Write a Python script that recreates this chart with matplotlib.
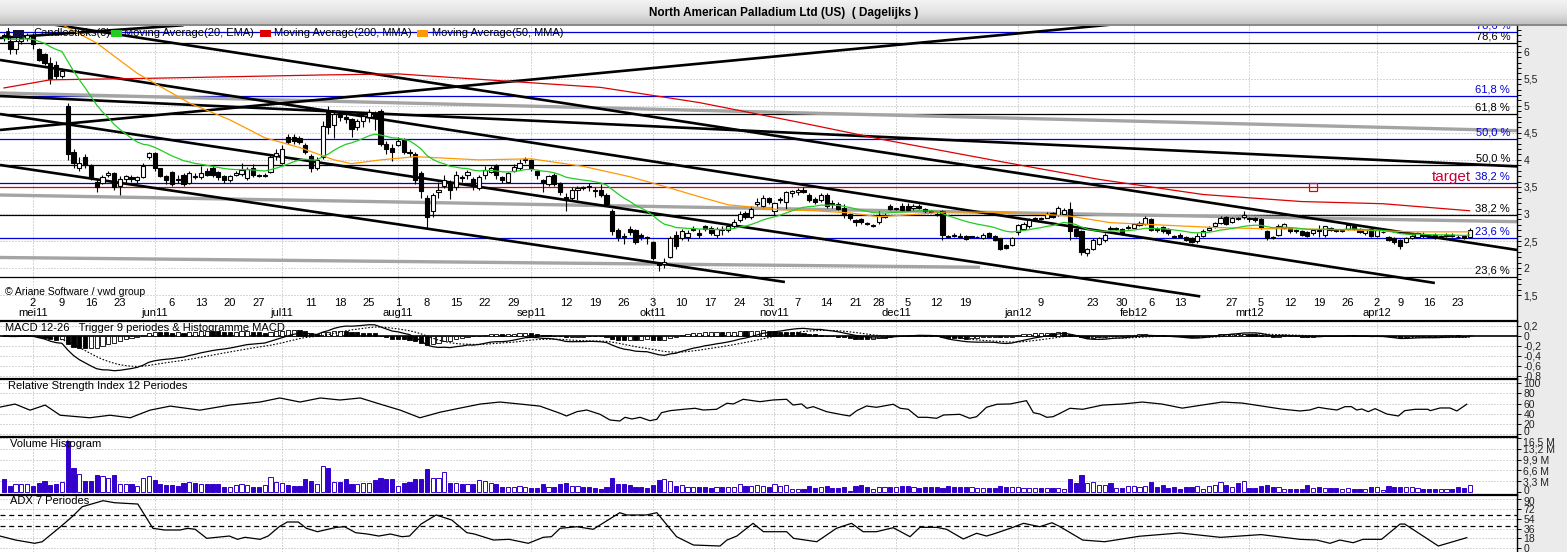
import numpy as np
import pandas as pd
import matplotlib
matplotlib.use("Agg")
import matplotlib.pyplot as plt
from matplotlib.patches import Rectangle
from matplotlib.colors import LinearSegmentedColormap
from matplotlib.ticker import FixedLocator, FuncFormatter
from matplotlib.transforms import ScaledTranslation

plt.rcParams['font.family'] = ['Liberation Sans', 'DejaVu Sans']

# ============================================================
# Data
# ============================================================

title = "North American Palladium Ltd (US)  ( Dagelijks )"

holidays = ['2011-05-30', '2011-07-04', '2011-09-05', '2011-11-24', '2011-12-26',
            '2012-01-02', '2012-01-16', '2012-02-20', '2012-04-06']
dates = pd.bdate_range('2011-04-25', '2012-04-25')
dates = dates[~dates.isin(pd.to_datetime(holidays))]

opens = [
    6.30, 6.20, 6.05, 6.20, 6.25, 6.30, 6.05, 5.95, 5.80, 5.75,
    5.55, 5.00, 4.15, 3.85, 4.05, 3.90, 3.60, 3.58, 3.72, 3.75,
    3.52, 3.65, 3.68, 3.63, 3.68, 4.05, 4.12, 3.85, 3.70, 3.78,
    3.65, 3.72, 3.58, 3.70, 3.68, 3.80, 3.85, 3.78, 3.70, 3.62,
    3.72, 3.74, 3.66, 3.85, 3.72, 3.71, 3.78, 4.08, 3.95, 4.42,
    4.42, 4.40, 4.28, 4.08, 3.85, 4.05, 4.90, 4.65, 4.85, 4.80,
    4.75, 4.60, 4.72, 4.80, 4.85, 4.90, 4.30, 4.22, 4.28, 4.38,
    4.15, 4.10, 3.75, 3.30, 3.05, 3.40, 3.52, 3.58, 3.50, 3.68,
    3.72, 3.65, 3.48, 3.72, 3.78, 3.88, 3.68, 3.60, 3.80, 3.85,
    4.00, 4.00, 3.80, 3.62, 3.55, 3.72, 3.58, 3.32, 3.30, 3.45,
    3.50, 3.52, 3.45, 3.45, 3.35, 3.05, 2.70, 2.60, 2.72, 2.70,
    2.62, 2.58, 2.48, 2.10, 2.08, 2.20, 2.62, 2.55, 2.58, 2.70,
    2.65, 2.78, 2.75, 2.62, 2.72, 2.70, 2.78, 2.88, 3.02, 2.95,
    3.18, 3.15, 3.30, 3.05, 3.25, 3.22, 3.38, 3.40, 3.45, 3.35,
    3.28, 3.25, 3.35, 3.20, 3.18, 3.12, 3.00, 2.88, 2.90, 2.84,
    2.78, 2.85, 2.94, 3.15, 3.10, 3.15, 3.15, 3.12, 3.15, 3.10,
    3.06, 3.00, 3.05, 2.60, 2.62, 2.60, 2.60, 2.58, 2.57, 2.56,
    2.65, 2.60, 2.55, 2.42, 2.42, 2.66, 2.72, 2.78, 2.90, 2.92,
    2.93, 3.02, 2.99, 3.00, 3.10, 2.72, 2.68, 2.28, 2.35, 2.45,
    2.52, 2.75, 2.72, 2.72, 2.74, 2.75, 2.80, 2.82, 2.90, 2.72,
    2.76, 2.72, 2.60, 2.62, 2.58, 2.56, 2.50, 2.60, 2.70, 2.77,
    2.84, 2.95, 2.85, 2.92, 2.95, 2.92, 2.92, 2.90, 2.68, 2.58,
    2.62, 2.75, 2.75, 2.70, 2.68, 2.66, 2.64, 2.70, 2.62, 2.74,
    2.70, 2.68, 2.72, 2.78, 2.72, 2.64, 2.73, 2.60, 2.66, 2.58,
    2.55, 2.52, 2.48, 2.56, 2.58, 2.62, 2.60, 2.62, 2.58, 2.60,
    2.62, 2.58, 2.60, 2.58,
]
highs = [
    6.35, 6.30, 6.30, 6.30, 6.35, 6.35, 6.07, 5.98, 5.90, 5.82,
    5.70, 5.05, 4.20, 4.05, 4.10, 3.92, 3.64, 3.72, 3.80, 3.78,
    3.70, 3.72, 3.72, 3.70, 3.95, 4.15, 4.15, 3.85, 3.72, 3.80,
    3.72, 3.75, 3.80, 3.75, 3.88, 3.85, 3.88, 3.80, 3.72, 3.72,
    3.80, 3.95, 3.86, 3.92, 3.74, 3.76, 4.10, 4.20, 4.28, 4.48,
    4.48, 4.45, 4.32, 4.10, 4.05, 4.72, 5.00, 4.90, 4.90, 4.85,
    4.78, 4.75, 4.88, 4.95, 4.90, 4.95, 4.35, 4.30, 4.42, 4.40,
    4.20, 4.15, 3.80, 3.35, 3.38, 3.60, 3.72, 3.62, 3.80, 3.72,
    3.82, 3.68, 3.72, 3.88, 3.88, 3.92, 3.70, 3.78, 3.92, 4.02,
    4.05, 4.02, 3.82, 3.65, 3.72, 3.75, 3.60, 3.38, 3.50, 3.52,
    3.52, 3.58, 3.50, 3.55, 3.38, 3.10, 2.75, 2.65, 2.78, 2.72,
    2.65, 2.60, 2.50, 2.12, 2.18, 2.60, 2.68, 2.72, 2.70, 2.78,
    2.72, 2.80, 2.78, 2.76, 2.78, 2.82, 2.90, 3.05, 3.05, 3.15,
    3.30, 3.35, 3.32, 3.22, 3.32, 3.42, 3.45, 3.48, 3.50, 3.38,
    3.32, 3.38, 3.38, 3.25, 3.22, 3.18, 3.02, 2.90, 2.92, 2.86,
    2.82, 3.05, 3.02, 3.18, 3.12, 3.20, 3.20, 3.18, 3.18, 3.12,
    3.08, 3.04, 3.08, 2.62, 2.65, 2.64, 2.62, 2.60, 2.60, 2.64,
    2.66, 2.62, 2.56, 2.45, 2.57, 2.82, 2.85, 2.92, 2.94, 2.95,
    3.03, 3.03, 3.15, 3.12, 3.22, 2.75, 2.70, 2.38, 2.55, 2.58,
    2.65, 2.78, 2.76, 2.74, 2.80, 2.84, 2.87, 2.96, 2.92, 2.76,
    2.78, 2.74, 2.62, 2.64, 2.60, 2.58, 2.64, 2.72, 2.78, 2.86,
    2.96, 2.97, 2.94, 2.95, 3.05, 2.95, 2.94, 2.92, 2.70, 2.60,
    2.82, 2.84, 2.76, 2.72, 2.70, 2.68, 2.72, 2.80, 2.78, 2.76,
    2.72, 2.72, 2.82, 2.82, 2.74, 2.72, 2.75, 2.72, 2.68, 2.60,
    2.58, 2.54, 2.58, 2.62, 2.66, 2.66, 2.63, 2.64, 2.62, 2.64,
    2.64, 2.62, 2.62, 2.75,
]
lows = [
    6.20, 5.95, 5.95, 6.15, 6.20, 6.05, 5.82, 5.75, 5.40, 5.50,
    5.52, 4.00, 3.85, 3.80, 3.85, 3.62, 3.40, 3.55, 3.68, 3.45,
    3.35, 3.58, 3.60, 3.58, 3.66, 4.02, 3.80, 3.68, 3.55, 3.52,
    3.58, 3.52, 3.55, 3.65, 3.65, 3.70, 3.68, 3.62, 3.58, 3.60,
    3.70, 3.70, 3.62, 3.68, 3.68, 3.68, 3.75, 4.00, 3.92, 4.30,
    4.30, 4.30, 4.10, 3.78, 3.82, 4.02, 4.48, 4.40, 4.72, 4.68,
    4.42, 4.55, 4.60, 4.70, 4.55, 4.25, 4.10, 3.98, 4.25, 4.10,
    4.05, 3.55, 3.30, 2.75, 2.95, 3.30, 3.48, 3.28, 3.45, 3.60,
    3.65, 3.45, 3.45, 3.65, 3.75, 3.65, 3.58, 3.58, 3.78, 3.82,
    3.95, 3.80, 3.65, 3.40, 3.52, 3.52, 3.35, 3.05, 3.25, 3.25,
    3.45, 3.42, 3.32, 3.32, 3.15, 2.62, 2.50, 2.45, 2.62, 2.45,
    2.52, 2.45, 2.15, 1.95, 2.00, 2.18, 2.35, 2.52, 2.50, 2.68,
    2.55, 2.68, 2.62, 2.55, 2.62, 2.66, 2.75, 2.85, 2.90, 2.90,
    3.15, 3.12, 3.18, 2.98, 3.20, 3.10, 3.32, 3.35, 3.38, 3.22,
    3.18, 3.22, 3.12, 3.12, 3.08, 2.92, 2.88, 2.78, 2.82, 2.80,
    2.76, 2.82, 2.92, 3.08, 3.08, 3.05, 3.05, 3.08, 3.10, 3.02,
    3.02, 2.96, 2.52, 2.55, 2.57, 2.55, 2.52, 2.55, 2.55, 2.54,
    2.56, 2.50, 2.33, 2.36, 2.40, 2.62, 2.70, 2.75, 2.88, 2.88,
    2.92, 2.92, 2.97, 2.98, 2.52, 2.58, 2.25, 2.22, 2.33, 2.42,
    2.48, 2.70, 2.70, 2.62, 2.72, 2.74, 2.78, 2.80, 2.68, 2.66,
    2.64, 2.62, 2.55, 2.56, 2.50, 2.46, 2.46, 2.58, 2.68, 2.75,
    2.82, 2.80, 2.83, 2.88, 2.90, 2.86, 2.86, 2.72, 2.52, 2.53,
    2.60, 2.72, 2.65, 2.64, 2.60, 2.58, 2.62, 2.58, 2.58, 2.68,
    2.66, 2.66, 2.70, 2.70, 2.64, 2.62, 2.58, 2.58, 2.64, 2.50,
    2.45, 2.36, 2.46, 2.53, 2.55, 2.56, 2.55, 2.54, 2.56, 2.58,
    2.58, 2.55, 2.53, 2.56,
]
closes = [
    6.25, 6.05, 6.20, 6.25, 6.30, 6.15, 5.85, 5.80, 5.50, 5.55,
    5.65, 4.10, 3.95, 3.95, 3.90, 3.68, 3.50, 3.68, 3.76, 3.50,
    3.65, 3.70, 3.64, 3.68, 3.88, 4.12, 3.85, 3.70, 3.62, 3.55,
    3.62, 3.55, 3.75, 3.68, 3.76, 3.72, 3.72, 3.68, 3.63, 3.70,
    3.76, 3.82, 3.83, 3.72, 3.70, 3.73, 4.05, 4.12, 4.20, 4.33,
    4.35, 4.33, 4.15, 3.85, 4.00, 4.62, 4.60, 4.85, 4.80, 4.75,
    4.58, 4.72, 4.82, 4.88, 4.78, 4.30, 4.20, 4.15, 4.35, 4.15,
    4.12, 3.62, 3.42, 2.95, 3.35, 3.45, 3.62, 3.45, 3.72, 3.66,
    3.78, 3.52, 3.68, 3.82, 3.85, 3.72, 3.62, 3.75, 3.86, 3.95,
    4.02, 3.85, 3.72, 3.58, 3.70, 3.55, 3.40, 3.25, 3.45, 3.48,
    3.48, 3.50, 3.42, 3.35, 3.18, 2.68, 2.58, 2.58, 2.66, 2.48,
    2.58, 2.55, 2.18, 2.05, 2.12, 2.55, 2.40, 2.68, 2.65, 2.72,
    2.62, 2.72, 2.65, 2.72, 2.70, 2.78, 2.85, 3.00, 2.95, 3.10,
    3.22, 3.30, 3.22, 3.20, 3.28, 3.40, 3.42, 3.45, 3.40, 3.25,
    3.22, 3.35, 3.15, 3.18, 3.10, 2.98, 2.92, 2.86, 2.86, 2.82,
    2.80, 2.98, 2.98, 3.10, 3.10, 3.08, 3.08, 3.15, 3.12, 3.05,
    3.04, 2.98, 2.62, 2.58, 2.60, 2.58, 2.54, 2.58, 2.58, 2.62,
    2.58, 2.52, 2.35, 2.38, 2.55, 2.80, 2.82, 2.88, 2.92, 2.90,
    3.00, 2.94, 3.12, 3.08, 2.68, 2.60, 2.30, 2.35, 2.52, 2.55,
    2.62, 2.72, 2.74, 2.64, 2.76, 2.82, 2.84, 2.92, 2.70, 2.70,
    2.68, 2.64, 2.58, 2.58, 2.52, 2.48, 2.60, 2.68, 2.75, 2.84,
    2.92, 2.82, 2.92, 2.90, 2.98, 2.90, 2.88, 2.75, 2.55, 2.56,
    2.78, 2.81, 2.68, 2.68, 2.62, 2.60, 2.70, 2.68, 2.77, 2.70,
    2.68, 2.70, 2.80, 2.72, 2.66, 2.70, 2.60, 2.70, 2.66, 2.52,
    2.48, 2.40, 2.56, 2.60, 2.64, 2.60, 2.57, 2.56, 2.60, 2.62,
    2.60, 2.57, 2.55, 2.71,
]
# volume in millions of shares
volumes = [
    3.8, 1.7, 2.4, 2.4, 2.4, 1.7, 2.6, 3.3, 2.1, 2.4,
    3.1, 15.7, 7.2, 5.5, 3.3, 3.3, 5.1, 4.9, 4.1, 5.1,
    2.4, 2.4, 2.4, 1.7, 4.1, 4.8, 3.6, 2.4, 2.1, 2.1,
    1.7, 2.8, 3.1, 2.8, 2.4, 2.4, 2.4, 2.4, 1.3, 1.5,
    2.1, 2.4, 2.1, 1.5, 1.3, 2.1, 4.4, 3.1, 2.8, 2.1,
    1.7, 1.7, 3.8, 3.4, 2.4, 7.9, 7.2, 3.1, 3.1, 3.8,
    2.4, 2.4, 2.8, 2.8, 3.6, 4.1, 3.8, 3.8, 1.7, 2.8,
    3.1, 3.8, 3.8, 6.9, 4.1, 4.1, 6.1, 2.8, 2.6, 2.4,
    2.4, 2.4, 3.6, 3.4, 2.6, 2.4, 1.3, 1.5, 1.5, 1.7,
    1.3, 1.0, 1.0, 2.4, 1.3, 1.3, 2.4, 2.6, 1.7, 1.7,
    1.3, 1.5, 1.2, 0.7, 1.4, 4.2, 2.3, 2.3, 2.0, 1.5,
    1.4, 1.2, 2.1, 3.6, 3.8, 3.2, 1.7, 2.0, 1.4, 1.4,
    1.4, 1.4, 1.1, 1.6, 1.6, 1.6, 1.6, 2.3, 1.7, 1.7,
    2.0, 1.7, 1.4, 2.3, 1.7, 2.0, 0.9, 0.9, 0.9, 1.7,
    1.2, 1.5, 1.7, 1.2, 1.2, 1.4, 0.2, 1.7, 2.1, 1.6,
    0.9, 1.5, 1.5, 1.5, 1.5, 1.9, 1.7, 1.4, 1.2, 1.5,
    1.5, 1.4, 1.0, 1.7, 1.5, 1.5, 1.5, 1.5, 1.0, 1.2,
    1.0, 1.2, 1.7, 1.5, 1.5, 1.5, 1.2, 1.2, 1.2, 1.0,
    1.2, 1.2, 1.2, 0.9, 3.8, 2.8, 5.3, 2.6, 3.0, 2.0,
    2.0, 2.8, 1.2, 1.2, 1.7, 1.7, 1.4, 1.7, 3.0, 1.4,
    2.1, 1.2, 1.4, 0.9, 1.4, 1.4, 1.7, 0.9, 1.7, 2.0,
    3.0, 2.0, 1.5, 2.8, 3.3, 1.0, 1.0, 1.7, 2.1, 1.5,
    1.5, 0.9, 0.9, 0.7, 0.7, 2.0, 1.2, 1.4, 1.0, 1.0,
    1.0, 0.9, 1.0, 0.7, 0.7, 0.7, 1.4, 1.4, 0.5, 1.7,
    1.5, 1.5, 1.4, 1.4, 1.0, 0.7, 0.7, 0.7, 0.7, 0.7,
    0.7, 1.4, 1.0, 2.1,
]

# 200 MMA (red) and 50 MMA (orange), read at sample days
ma200_idx = [0, 8, 26, 55, 68, 82, 103, 120, 137, 152, 172, 189, 207, 224, 238, 253]
ma200_val = [5.33, 5.48, 5.51, 5.57, 5.59, 5.49, 5.34, 5.06, 4.70, 4.37,
             3.97, 3.64, 3.36, 3.23, 3.19, 3.06]
ma50_idx = [0, 10, 16, 23, 32, 39, 45, 51, 57, 60, 65, 71, 82, 91, 100, 108, 114, 120,
            125, 134, 140, 146, 151, 157, 163, 172, 180, 184, 191, 203, 209, 217, 226,
            238, 243, 253]
ma50_val = [6.75, 6.50, 6.16, 5.60, 5.05, 4.74, 4.41, 4.23, 4.00, 3.93, 4.00, 4.06,
            4.00, 4.02, 3.88, 3.69, 3.51, 3.32, 3.17, 3.08, 3.06, 3.02, 2.95, 2.99,
            3.04, 3.03, 2.99, 2.96, 2.84, 2.78, 2.75, 2.73, 2.72, 2.69, 2.67, 2.67]

# RSI 12 and ADX 7, read at sample days
rsi_idx = [-0.7, 1.9, 4.5, 7.1, 9.7, 14.8, 18.3, 21.8, 25.2, 28.7, 33.8, 39.0, 44.2,
           47.6, 51.1, 54.6, 58.0, 61.5, 64.9, 68.4, 71.8, 75.3, 78.7, 82.2, 85.6,
           89.1, 92.5, 96.0, 97.1, 98.9, 100.6, 102.9, 104.6, 106.3, 107.2, 108.4,
           109.8, 111.5, 112.7, 113.5, 115.0, 117.3, 119.3, 120.7, 123.0, 124.8,
           125.9, 127.6, 130.5, 132.8, 135.1, 136.2, 137.7, 138.6, 139.7, 142.0,
           144.3, 146.0, 147.2, 148.9, 150.6, 153.5, 154.7, 156.1, 157.8, 159.3,
           161.0, 162.2, 165.0, 166.7, 167.9, 169.6, 171.4, 173.7, 176.5, 177.7,
           178.8, 180.0, 181.1, 182.3, 184.0, 186.2, 189.6, 193.0, 196.5, 199.9,
           203.4, 206.8, 210.3, 213.7, 217.2, 220.6, 223.7, 225.4, 226.9, 228.3,
           230.1, 231.5, 232.6, 233.5, 234.4, 235.5, 236.7, 238.7, 240.7, 241.8,
           243.6, 245.8, 246.2, 247.9, 249.6, 250.8, 252.5]
rsi_val = [53, 59, 47, 57, 37, 32, 37, 32, 47, 55, 47, 57, 63, 71, 63, 71, 67, 71, 59,
           47, 32, 43, 51, 59, 63, 59, 55, 40.8, 35.5, 44.0, 47.3, 38.8, 27.6, 25.6,
           32.9, 29.6, 32.9, 26.2, 29.0, 42.0, 46.0, 48.7, 50.7, 47.3, 48.7, 60.6,
           59.2, 68.4, 63.7, 67.1, 68.4, 57.2, 59.2, 50.7, 53.9, 44.0, 38.8, 35.5,
           46.0, 55.2, 52.6, 58.6, 50.7, 48.7, 32.9, 32.9, 31.0, 37.5, 38.8, 31.0,
           34.1, 52.6, 58.6, 59.2, 65.7, 42.0, 39.4, 32.9, 34.1, 40.8, 50.7, 48.7,
           57, 59, 63, 59, 51, 57, 63, 61, 55, 49, 45.4, 47.3, 52.6, 50.0, 47.3,
           53.9, 53.9, 47.3, 49.3, 44.0, 50.0, 39.4, 35.5, 46.0, 48.7, 48.7, 46.0,
           51.3, 51.3, 45.4, 58.6]
adx_idx = [-0.7, 2.0, 5.3, 6.6, 9.9, 11.9, 13.5, 17.1, 19.1, 23.1, 25.7, 27.7, 30.4,
           31.7, 33.0, 35.0, 38.9, 40.3, 41.6, 44.2, 45.6, 47.5, 48.9, 50.8, 52.2,
           54.1, 57.4, 58.8, 60.7, 62.7, 64.7, 66.7, 68.7, 70.0, 72.0, 74.6, 77.3,
           79.9, 81.2, 84.5, 87.2, 89.2, 90.5, 93.1, 94.5, 96.0, 98.9, 101.7, 106.3,
           107.5, 110.9, 112.7, 116.1, 119.0, 123.6, 124.8, 126.5, 129.3, 131.1,
           135.1, 136.3, 140.3, 143.7, 146.3, 148.3, 150.6, 153.5, 156.4, 158.1,
           161.0, 162.7, 165.6, 167.9, 169.6, 170.8, 173.7, 176.0, 178.8, 180.9,
           182.3, 186.2, 190.0, 196.0, 203.0, 210.0, 217.0, 223.7, 226.6, 228.9,
           230.6, 232.9, 234.6, 237.8, 241.0, 241.8, 247.6, 252.5]
adx_val = [22.4, 15.1, 9.1, 12.0, 40.7, 58.9, 75.9, 86.9, 83.2, 80.8, 36.5, 33.4,
           33.4, 36.5, 34.7, 18.2, 22.4, 16.4, 20.1, 16.4, 22.4, 39.4, 48.0, 48.0,
           36.5, 30.3, 38.3, 39.4, 28.5, 26.1, 22.4, 26.1, 21.2, 22.4, 44.3, 60.8,
           51.6, 28.5, 26.1, 15.1, 16.4, 12.0, 9.1, 20.1, 21.2, 36.5, 39.4, 34.7,
           65.0, 60.8, 60.8, 65.0, 21.2, 6.0, 4.2, 15.1, 22.4, 45.6, 30.3, 30.3,
           18.2, 12.0, 36.5, 45.6, 30.3, 30.3, 37.6, 21.2, 38.3, 38.3, 34.7, 17.0,
           27.4, 22.4, 26.1, 36.5, 45.6, 39.4, 46.7, 39.4, 15.1, 12.0, 22.0, 28.0,
           20.0, 25.0, 16.4, 15.1, 9.1, 15.1, 10.2, 16.4, 16.4, 44.3, 44.3, 4.2,
           19.4]

# Fibonacci retracement sets
fib_names = ['78,6 %', '61,8 %', '50,0 %', '38,2 %', '23,6 %']
fib_black = [6.155, 4.843, 3.900, 2.976, 1.830]
fib_blue = [6.359, 5.187, 4.386, 3.567, 2.551]

target_level = 3.5
target_day = 226

# hand drawn trend lines, (day, price) end points
black_lines = [
    ((-0.69, 5.847), (247.0, 1.725)),
    ((0.0, 6.643), (261.2, 2.335)),
    ((-0.69, 3.906), (134.8, 1.743)),
    ((-0.69, 4.848), (206.5, 1.477)),
    ((-0.69, 5.181), (261.2, 3.880)),
    ((-0.69, 4.553), (192.0, 6.51)),
    ((-0.69, 6.253), (31.0, 6.49)),
]
grey_lines = [
    ((-0.69, 5.237), (261.2, 4.540)),
    ((-0.69, 3.351), (261.2, 2.858)),
    ((-0.69, 2.196), (168.5, 2.015)),
]

month_names = ['jan', 'feb', 'mrt', 'apr', 'mei', 'jun',
               'jul', 'aug', 'sep', 'okt', 'nov', 'dec']

# ============================================================
# Indicators computed from the candles
# ============================================================

o = np.array(opens)
h = np.array(highs)
l = np.array(lows)
c = np.array(closes)
vol = np.array(volumes)
x = np.arange(len(dates))
assert len(o) == len(h) == len(l) == len(c) == len(vol) == len(dates)
assert len(rsi_idx) == len(rsi_val) and len(adx_idx) == len(adx_val)


def ema(vals, n):
    a = 2.0 / (n + 1)
    out = np.empty(len(vals))
    out[0] = vals[0]
    for k in range(1, len(vals)):
        out[k] = out[k - 1] + a * (vals[k] - out[k - 1])
    return out


ema20 = ema(c, 20)
macd = ema(c, 12) - ema(c, 26)
trigger = ema(macd, 9)
hist = macd - trigger

# ============================================================
# Layout (pixel based, 1567 x 552)
# ============================================================

W, H = 1567, 552
PLOT_R = 1517
XMIN, XMAX = -0.69, 261.18
GRID = dict(color='#b0b0b0', lw=0.72, linestyle=(0, (1, 2)), zorder=0)
LABEL_SIZE = 7.5

fig = plt.figure(figsize=(W / 100, H / 100), dpi=100, facecolor='#ebebeb')


def fx(px):
    return px / W


def fy(py):
    return 1 - py / H


def comma(fmt):
    return FuncFormatter(lambda v, p: fmt(v).replace('.', ','))


def nudge(ax, tick_no, dy_px):
    # shift one right-hand tick label up (+) or down (-) by a few pixels
    t = ax.yaxis.get_major_ticks()[tick_no]
    t.label2.set_transform(t.label2.get_transform()
                           + ScaledTranslation(0, dy_px / 100, fig.dpi_scale_trans))


def panel(top, bottom, ylim):
    ax = fig.add_axes([0, 1 - bottom / H, PLOT_R / W, (bottom - top) / H])
    ax.set_facecolor('white')
    ax.set_xlim(XMIN, XMAX)
    ax.set_ylim(*ylim)
    ax.set_xticks([])
    for s in ['left', 'bottom']:
        ax.spines[s].set_visible(False)
    ax.spines['right'].set_linewidth(1.0)
    ax.spines['top'].set_linewidth(1.6)
    ax.yaxis.tick_right()
    ax.tick_params(axis='y', which='both', direction='out', length=3, width=0.7,
                   labelsize=LABEL_SIZE, pad=1.5, labelcolor='#202020')
    return ax


month_starts = [k for k in range(1, len(dates)) if dates[k].month != dates[k - 1].month]

# title bar
tax = fig.add_axes([0, fy(26), 1, 26 / H])
bar_cmap = LinearSegmentedColormap.from_list('bar', ['#f3f3f3', '#e2e2e2', '#bcbcbc'])
tax.imshow(np.linspace(0, 1, 60).reshape(-1, 1), aspect='auto', cmap=bar_cmap,
           extent=[0, 1, 0, 1])
tax.set_xlim(0, 1)
tax.set_ylim(0, 1)
tax.axhline(0.02, color='#808080', lw=1.2)
tax.set_axis_off()
tax.text(0.5, 0.5, title, ha='center', va='center', fontsize=8.5, fontweight='bold',
         transform=tax.transAxes)

# ------------------------------------------------------------
# Price panel
# ------------------------------------------------------------
ax = panel(26, 321, (1.022, 6.475))
ax.spines['top'].set_visible(False)
ax.yaxis.set_major_locator(FixedLocator(np.arange(1.5, 6.01, 0.5)))
ax.yaxis.set_minor_locator(FixedLocator(np.arange(1.5, 6.45, 0.1)))
ax.yaxis.set_major_formatter(comma(lambda v: f"{v:g}"))

for lv in np.arange(1.5, 6.01, 0.5):
    ax.axhline(lv, **GRID)
for k in month_starts:
    ax.axvline(k, **GRID)

for lv, name in zip(fib_black, fib_names):
    ax.axhline(lv, color='black', lw=0.9, zorder=1)
    ax.text(260.0, lv + 0.122, name, ha='right', va='center', fontsize=8,
            color='black', clip_on=True, zorder=6)
for lv, name in zip(fib_blue, fib_names):
    ax.axhline(lv, color='#0000dd', lw=0.9, zorder=1)
    ax.text(260.0, lv + 0.122, name, ha='right', va='center', fontsize=8,
            color='#0000dd', clip_on=True, zorder=6)

ax.axhline(target_level, color='#dd0000', lw=0.9, zorder=1)
ax.text(253.2, target_level + 0.19, 'target', ha='right', va='center', fontsize=11,
        color='#cc0033', zorder=6)
ax.plot([target_day], [target_level], marker='s', ms=6, mfc='none', mec='#ee0000',
        mew=0.9, zorder=6)

for (x0, y0), (x1, y1) in grey_lines:
    ax.plot([x0, x1], [y0, y1], color='#a4a4a4', lw=2.4, solid_capstyle='butt', zorder=2)
for (x0, y0), (x1, y1) in black_lines:
    ax.plot([x0, x1], [y0, y1], color='black', lw=1.9, solid_capstyle='butt', zorder=2)

up = c >= o
body_low = np.minimum(o, c)
body_h = np.maximum(abs(c - o), 0.012)
ax.vlines(x, l, h, color='black', lw=0.8, zorder=3)
ax.bar(x[up], body_h[up], bottom=body_low[up], width=0.72, facecolor='white',
       edgecolor='black', lw=0.8, zorder=4)
ax.bar(x[~up], body_h[~up], bottom=body_low[~up], width=0.72, facecolor='black',
       edgecolor='black', lw=0.8, zorder=4)

ax.plot(ma200_idx, ma200_val, color='#dd0000', lw=0.9, zorder=5)
ax.plot(ma50_idx, ma50_val, color='#ff9900', lw=0.9, zorder=5)
ax.plot(x, ema20, color='#22cc22', lw=0.9, zorder=5)

# date labels
xt = ax.get_xaxis_transform()
for k, dte in enumerate(dates):
    if dte.weekday() == 0 and k > 0:
        ax.text(k, 0.060, str(dte.day), transform=xt, ha='center', va='center', fontsize=8)
for k in month_starts:
    dte = dates[k]
    ax.text(k, 0.026, f"{month_names[dte.month - 1]}{dte.year % 100:02d}", transform=xt,
            ha='center', va='center', fontsize=8)
ax.text(0.0035, 0.099, '\u00a9 Ariane Software / vwd group', transform=ax.transAxes,
        ha='left', va='center', fontsize=7.5)

# legend
fig.add_artist(plt.Line2D([fx(7.5), fx(7.5)], [fy(28), fy(39)], color='black', lw=0.8,
                          transform=fig.transFigure))
fig.add_artist(Rectangle((fx(6), fy(36)), 3 / W, 5 / H, transform=fig.transFigure,
                         facecolor='black', edgecolor='black', lw=0.5))
legend_items = [
    (13, '#101040', 33, 'Candlesticks(0)'),
    (111, '#22cc22', 124, 'Moving Average(20, EMA)'),
    (260, '#dd0000', 274, 'Moving Average(200, MMA)'),
    (417, '#ff9900', 432, 'Moving Average(50, MMA)'),
]
for sx, col, tx, label in legend_items:
    fig.add_artist(Rectangle((fx(sx), fy(36.5)), 11 / W, 6 / H, transform=fig.transFigure,
                             facecolor=col, edgecolor='none'))
    fig.text(fx(tx), fy(33.5), label, ha='left', va='center', fontsize=8)

# ------------------------------------------------------------
# MACD panel
# ------------------------------------------------------------
axm = panel(321, 379.3, (-0.872, 0.294))
macd_ticks = [-0.8, -0.6, -0.4, -0.2, 0, 0.2]
axm.yaxis.set_major_locator(FixedLocator(macd_ticks))
axm.yaxis.set_major_formatter(comma(lambda v: f"{v:.1f}" if abs(v) > 1e-9 else "0"))
for lv in macd_ticks:
    if lv != 0:
        axm.axhline(lv, **GRID)
for k in month_starts:
    axm.axvline(k, **GRID)
axm.axhline(0, color='black', lw=1.2, zorder=2)
falling = np.r_[False, hist[1:] < hist[:-1]]
axm.bar(x[falling], hist[falling], width=0.72, facecolor='black', edgecolor='black',
        lw=0.6, zorder=3)
axm.bar(x[~falling], hist[~falling], width=0.72, facecolor='white', edgecolor='black',
        lw=0.6, zorder=3)
axm.plot(x, macd, color='black', lw=0.9, zorder=4)
axm.plot(x, trigger, color='black', lw=0.8, linestyle=(0, (1.5, 1.5)), zorder=4)
axm.text(0.0035, 0.88, 'MACD 12-26   Trigger 9 periodes & Histogramme MACD',
         transform=axm.transAxes, ha='left', va='center', fontsize=8, zorder=6)

# ------------------------------------------------------------
# RSI panel
# ------------------------------------------------------------
axr = panel(379.3, 437.3, (-6.5, 107.8))
rsi_ticks = [0, 20, 40, 60, 80, 100]
axr.yaxis.set_major_locator(FixedLocator(rsi_ticks))
axr.yaxis.set_major_formatter(FuncFormatter(lambda v, p: f"{v:.0f}"))
for lv in rsi_ticks:
    axr.axhline(lv, **GRID)
for k in month_starts:
    axr.axvline(k, **GRID)
axr.plot(rsi_idx, rsi_val, color='black', lw=0.9, zorder=4)
axr.text(0.005, 0.89, 'Relative Strength Index 12 Periodes', transform=axr.transAxes,
         ha='left', va='center', fontsize=8)
nudge(axr, 0, 3)

# ------------------------------------------------------------
# Volume panel
# ------------------------------------------------------------
axv = panel(437.3, 495, (-1.02, 16.79))
vol_ticks = [0, 3.3, 6.6, 9.9, 13.2, 16.5]
axv.yaxis.set_major_locator(FixedLocator(vol_ticks))
axv.yaxis.set_major_formatter(comma(lambda v: f"{v:.1f} M" if v > 0 else "0"))
for lv in vol_ticks[1:]:
    axv.axhline(lv, **GRID)
for k in month_starts:
    axv.axvline(k, **GRID)
axv.bar(x[~up], vol[~up], width=0.72, facecolor='#3300cc', edgecolor='#3300cc',
        lw=0.7, zorder=3)
axv.bar(x[up], vol[up], width=0.72, facecolor='white', edgecolor='#3300cc',
        lw=0.7, zorder=3)
axv.text(0.0065, 0.89, 'Volume Histogram', transform=axv.transAxes, ha='left',
         va='center', fontsize=8, zorder=6)
nudge(axv, 5, -3)
nudge(axv, 0, 2)

# ------------------------------------------------------------
# ADX panel
# ------------------------------------------------------------
axa = panel(495, 552, (-6.75, 97.3))
adx_ticks = [0, 18, 36, 54, 72, 90]
axa.yaxis.set_major_locator(FixedLocator(adx_ticks))
axa.yaxis.set_major_formatter(FuncFormatter(lambda v, p: f"{v:.0f}"))
for lv in adx_ticks:
    axa.axhline(lv, **GRID)
for k in month_starts:
    axa.axvline(k, **GRID)
for lv in [40, 60]:
    axa.axhline(lv, color='black', lw=0.9, linestyle=(0, (4, 3)), zorder=2)
axa.plot(adx_idx, adx_val, color='black', lw=0.9, zorder=4)
axa.text(0.0065, 0.9, 'ADX 7 Periodes', transform=axa.transAxes, ha='left',
         va='center', fontsize=8)
nudge(axa, 5, -2)

fig.savefig('out.png', dpi=100, facecolor=fig.get_facecolor())
